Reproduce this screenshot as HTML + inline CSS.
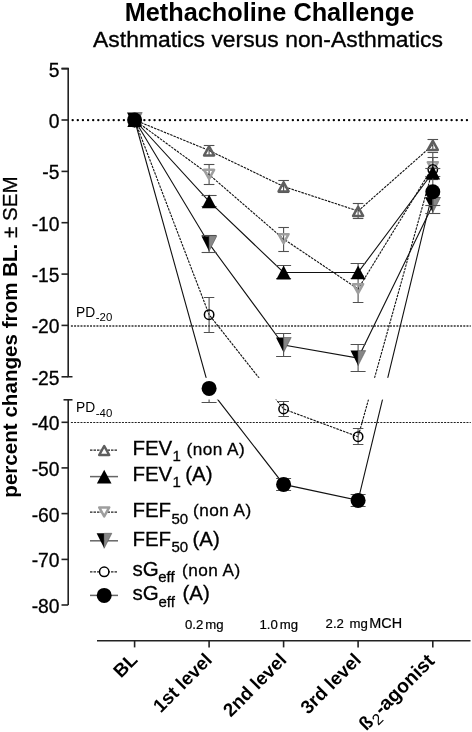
<!DOCTYPE html>
<html><head><meta charset="utf-8"><style>
html,body{margin:0;padding:0;background:#fff;}
svg{display:block;will-change:transform;font-family:"Liberation Sans",sans-serif;}
</style></head><body>
<svg width="472" height="732" viewBox="0 0 472 732">
<defs><clipPath id="nogap"><rect x="0" y="0" width="472" height="377.8"/><rect x="0" y="399.6" width="472" height="340"/></clipPath></defs>
<rect width="472" height="732" fill="#fff"/>
<text x="269.5" y="21.2" text-anchor="middle" font-size="25.3" font-weight="bold">Methacholine Challenge</text>
<text x="268" y="47.4" text-anchor="middle" font-size="22.9" stroke="#000" stroke-width="0.35">Asthmatics versus non-Asthmatics</text>
<text transform="translate(16.6 337) rotate(-90)" text-anchor="middle" font-size="20.6"><tspan font-weight="bold">percent changes from BL.</tspan><tspan stroke="#000" stroke-width="0.3"> ± SEM</tspan></text>
<!-- reference lines -->
<line x1="72.7" y1="120.1" x2="467.5" y2="120.1" stroke="#000" stroke-width="2.4" stroke-linecap="round" stroke-dasharray="0 5.12"/>
<line x1="70.9" y1="326" x2="470.8" y2="326" stroke="#333" stroke-width="1.3" stroke-dasharray="2 1.19"/>
<line x1="70.9" y1="422.5" x2="470.8" y2="422.5" stroke="#222" stroke-width="1.2" stroke-dasharray="2 1.19"/>
<text x="76" y="316.6" font-size="13.8">PD<tspan font-size="11.4" dy="4.6" dx="0.6">-20</tspan></text>
<text x="76" y="412.2" font-size="13.8">PD<tspan font-size="11.4" dy="4.6" dx="0.6">-40</tspan></text>
<!-- data lines -->
<g><polyline points="134.6,120.0 209.1,150.5 283.6,186.5 358.1,211.0 432.8,145.0" fill="none" stroke="#111" stroke-width="1.1" stroke-dasharray="2.5 1"/><polyline points="134.6,120.0 209.1,174.6 283.6,239.0 358.1,289.0 432.8,167.0" fill="none" stroke="#111" stroke-width="1.1" stroke-dasharray="2.5 1"/><polyline points="134.6,120.0 209.1,314.7 283.6,409.0 358.1,436.7 432.8,169.5" fill="none" stroke="#111" stroke-width="1.1" stroke-dasharray="2.5 1"/><polyline points="134.6,120.0 209.1,201.3 283.6,272.5 358.1,272.4 432.8,172.5" fill="none" stroke="#111" stroke-width="1.1"/><polyline points="134.6,120.0 209.1,243.7 283.6,345.0 358.1,358.1 432.8,205.0" fill="none" stroke="#111" stroke-width="1.1"/><polyline points="134.6,120.0 209.1,388.4 283.6,484.4 358.1,500.4 432.8,191.7" fill="none" stroke="#111" stroke-width="1.1"/></g>
<rect x="69.2" y="377.8" width="403.8" height="21.8" fill="#fff"/>
<g stroke="#505050" stroke-width="1.1" clip-path="url(#nogap)"><line x1="209.1" y1="145.5" x2="209.1" y2="155.5"/><line x1="203.8" y1="145.5" x2="214.4" y2="145.5"/><line x1="203.8" y1="155.5" x2="214.4" y2="155.5"/><line x1="283.6" y1="180.5" x2="283.6" y2="192.5"/><line x1="278.3" y1="180.5" x2="288.9" y2="180.5"/><line x1="278.3" y1="192.5" x2="288.9" y2="192.5"/><line x1="358.1" y1="203.5" x2="358.1" y2="218.5"/><line x1="352.8" y1="203.5" x2="363.4" y2="203.5"/><line x1="352.8" y1="218.5" x2="363.4" y2="218.5"/><line x1="432.8" y1="139.5" x2="432.8" y2="150.5"/><line x1="427.5" y1="139.5" x2="438.1" y2="139.5"/><line x1="427.5" y1="150.5" x2="438.1" y2="150.5"/></g><polygon points="129.60,124.90 134.60,115.90 139.60,124.90" fill="none" stroke="#5e5e5e" stroke-width="2.5" stroke-linejoin="round"/><polygon points="204.10,155.40 209.10,146.40 214.10,155.40" fill="none" stroke="#5e5e5e" stroke-width="2.5" stroke-linejoin="round"/><polygon points="278.60,191.40 283.60,182.40 288.60,191.40" fill="none" stroke="#5e5e5e" stroke-width="2.5" stroke-linejoin="round"/><polygon points="353.10,215.90 358.10,206.90 363.10,215.90" fill="none" stroke="#5e5e5e" stroke-width="2.5" stroke-linejoin="round"/><polygon points="427.80,149.90 432.80,140.90 437.80,149.90" fill="none" stroke="#5e5e5e" stroke-width="2.5" stroke-linejoin="round"/><g stroke="#505050" stroke-width="1.1" clip-path="url(#nogap)"><line x1="209.1" y1="164.5" x2="209.1" y2="184.5"/><line x1="203.8" y1="164.5" x2="214.4" y2="164.5"/><line x1="203.8" y1="184.5" x2="214.4" y2="184.5"/><line x1="283.6" y1="227.5" x2="283.6" y2="251.5"/><line x1="278.3" y1="227.5" x2="288.9" y2="227.5"/><line x1="278.3" y1="251.5" x2="288.9" y2="251.5"/><line x1="358.1" y1="275.5" x2="358.1" y2="302.5"/><line x1="352.8" y1="275.5" x2="363.4" y2="275.5"/><line x1="352.8" y1="302.5" x2="363.4" y2="302.5"/><line x1="432.8" y1="152.5" x2="432.8" y2="179.5"/><line x1="427.5" y1="152.5" x2="438.1" y2="152.5"/><line x1="427.5" y1="179.5" x2="438.1" y2="179.5"/></g><polygon points="129.60,115.20 134.60,124.20 139.60,115.20" fill="none" stroke="#9e9e9e" stroke-width="2.5" stroke-linejoin="round"/><polygon points="204.10,169.80 209.10,178.80 214.10,169.80" fill="none" stroke="#9e9e9e" stroke-width="2.5" stroke-linejoin="round"/><polygon points="278.60,234.20 283.60,243.20 288.60,234.20" fill="none" stroke="#9e9e9e" stroke-width="2.5" stroke-linejoin="round"/><polygon points="353.10,284.20 358.10,293.20 363.10,284.20" fill="none" stroke="#9e9e9e" stroke-width="2.5" stroke-linejoin="round"/><polygon points="427.80,162.20 432.80,171.20 437.80,162.20" fill="none" stroke="#9e9e9e" stroke-width="2.5" stroke-linejoin="round"/><g stroke="#505050" stroke-width="1.1" clip-path="url(#nogap)"><line x1="209.1" y1="297.5" x2="209.1" y2="332.5"/><line x1="203.8" y1="297.5" x2="214.3" y2="297.5"/><line x1="203.8" y1="332.5" x2="214.3" y2="332.5"/><line x1="283.6" y1="401.5" x2="283.6" y2="416.5"/><line x1="278.4" y1="401.5" x2="288.9" y2="401.5"/><line x1="278.4" y1="416.5" x2="288.9" y2="416.5"/><line x1="358.1" y1="428.5" x2="358.1" y2="444.5"/><line x1="352.9" y1="428.5" x2="363.4" y2="428.5"/><line x1="352.9" y1="444.5" x2="363.4" y2="444.5"/><line x1="432.8" y1="157.5" x2="432.8" y2="179.5"/><line x1="427.6" y1="157.5" x2="438.1" y2="157.5"/><line x1="427.6" y1="179.5" x2="438.1" y2="179.5"/></g><circle cx="134.60" cy="120.00" r="4.7" fill="none" stroke="#000" stroke-width="1.5"/><circle cx="209.10" cy="314.70" r="4.7" fill="none" stroke="#000" stroke-width="1.5"/><circle cx="283.60" cy="409.00" r="4.7" fill="none" stroke="#000" stroke-width="1.5"/><circle cx="358.10" cy="436.70" r="4.7" fill="none" stroke="#000" stroke-width="1.5"/><circle cx="432.80" cy="169.50" r="4.7" fill="none" stroke="#000" stroke-width="1.5"/><g stroke="#505050" stroke-width="1.1" clip-path="url(#nogap)"><line x1="209.1" y1="195.5" x2="209.1" y2="206.5"/><line x1="201.6" y1="195.5" x2="216.6" y2="195.5"/><line x1="201.6" y1="206.5" x2="216.6" y2="206.5"/><line x1="283.6" y1="265.5" x2="283.6" y2="278.5"/><line x1="276.1" y1="265.5" x2="291.1" y2="265.5"/><line x1="276.1" y1="278.5" x2="291.1" y2="278.5"/><line x1="358.1" y1="263.5" x2="358.1" y2="278.5"/><line x1="350.6" y1="263.5" x2="365.6" y2="263.5"/><line x1="350.6" y1="278.5" x2="365.6" y2="278.5"/><line x1="432.8" y1="168.5" x2="432.8" y2="176.5"/><line x1="425.3" y1="168.5" x2="440.3" y2="168.5"/><line x1="425.3" y1="176.5" x2="440.3" y2="176.5"/></g><polygon points="127.30,126.90 134.60,113.10 141.90,126.90" fill="#000"/><polygon points="201.80,208.20 209.10,194.40 216.40,208.20" fill="#000"/><polygon points="276.30,279.40 283.60,265.60 290.90,279.40" fill="#000"/><polygon points="350.80,279.30 358.10,265.50 365.40,279.30" fill="#000"/><polygon points="425.50,179.40 432.80,165.60 440.10,179.40" fill="#000"/><g stroke="#505050" stroke-width="1.1" clip-path="url(#nogap)"><line x1="209.1" y1="235.5" x2="209.1" y2="252.5"/><line x1="201.6" y1="235.5" x2="216.6" y2="235.5"/><line x1="201.6" y1="252.5" x2="216.6" y2="252.5"/><line x1="283.6" y1="333.5" x2="283.6" y2="356.5"/><line x1="276.1" y1="333.5" x2="291.1" y2="333.5"/><line x1="276.1" y1="356.5" x2="291.1" y2="356.5"/><line x1="358.1" y1="344.5" x2="358.1" y2="371.5"/><line x1="350.6" y1="344.5" x2="365.6" y2="344.5"/><line x1="350.6" y1="371.5" x2="365.6" y2="371.5"/><line x1="432.8" y1="197.5" x2="432.8" y2="213.5"/><line x1="425.3" y1="197.5" x2="440.3" y2="197.5"/><line x1="425.3" y1="213.5" x2="440.3" y2="213.5"/></g><polygon points="127.00,112.50 134.60,112.50 134.60,127.50" fill="#000"/><polygon points="134.60,112.50 142.20,112.50 134.60,127.50" fill="#868686" stroke="#555" stroke-width="0.6"/><polygon points="201.50,236.20 209.10,236.20 209.10,251.20" fill="#000"/><polygon points="209.10,236.20 216.70,236.20 209.10,251.20" fill="#868686" stroke="#555" stroke-width="0.6"/><polygon points="276.00,337.50 283.60,337.50 283.60,352.50" fill="#000"/><polygon points="283.60,337.50 291.20,337.50 283.60,352.50" fill="#868686" stroke="#555" stroke-width="0.6"/><polygon points="350.50,350.60 358.10,350.60 358.10,365.60" fill="#000"/><polygon points="358.10,350.60 365.70,350.60 358.10,365.60" fill="#868686" stroke="#555" stroke-width="0.6"/><polygon points="425.20,197.50 432.80,197.50 432.80,212.50" fill="#000"/><polygon points="432.80,197.50 440.40,197.50 432.80,212.50" fill="#868686" stroke="#555" stroke-width="0.6"/><g stroke="#505050" stroke-width="1.1" clip-path="url(#nogap)"><line x1="209.1" y1="388.5" x2="209.1" y2="402.5"/><line x1="201.6" y1="402.5" x2="216.6" y2="402.5"/><line x1="283.6" y1="478.5" x2="283.6" y2="490.5"/><line x1="276.1" y1="478.5" x2="291.1" y2="478.5"/><line x1="276.1" y1="490.5" x2="291.1" y2="490.5"/><line x1="358.1" y1="494.5" x2="358.1" y2="506.5"/><line x1="350.6" y1="494.5" x2="365.6" y2="494.5"/><line x1="350.6" y1="506.5" x2="365.6" y2="506.5"/><line x1="432.8" y1="178.5" x2="432.8" y2="205.5"/><line x1="425.3" y1="205.5" x2="440.3" y2="205.5"/></g><circle cx="134.60" cy="120.00" r="7.5" fill="#000"/><circle cx="209.10" cy="388.40" r="7.5" fill="#000"/><circle cx="283.60" cy="484.40" r="7.5" fill="#000"/><circle cx="358.10" cy="500.40" r="7.5" fill="#000"/><circle cx="432.80" cy="191.70" r="7.5" fill="#000"/>
<!-- axes -->
<g stroke="#222" stroke-width="1.6" fill="none">
<polyline points="61.5,68.6 68.2,68.6 68.2,376.8 72.5,376.8"/>
<polyline points="63.5,399.8 72.5,399.8"/>
<line x1="68.2" y1="399.8" x2="68.2" y2="605.0"/>
<line x1="61.5" y1="68.6" x2="68.2" y2="68.6"/><line x1="61.5" y1="120" x2="68.2" y2="120"/><line x1="61.5" y1="171.4" x2="68.2" y2="171.4"/><line x1="61.5" y1="222.7" x2="68.2" y2="222.7"/><line x1="61.5" y1="274.1" x2="68.2" y2="274.1"/><line x1="61.5" y1="325.4" x2="68.2" y2="325.4"/><line x1="61.5" y1="376.8" x2="68.2" y2="376.8"/><line x1="61.5" y1="422.3" x2="68.2" y2="422.3"/><line x1="61.5" y1="467.9" x2="68.2" y2="467.9"/><line x1="61.5" y1="513.6" x2="68.2" y2="513.6"/><line x1="61.5" y1="559.4" x2="68.2" y2="559.4"/><line x1="61.5" y1="605.0" x2="68.2" y2="605.0"/>
<line x1="97" y1="640.7" x2="470.5" y2="640.7"/>
<line x1="134.6" y1="640.7" x2="134.6" y2="647.4"/><line x1="209.1" y1="640.7" x2="209.1" y2="647.4"/><line x1="283.6" y1="640.7" x2="283.6" y2="647.4"/><line x1="358.1" y1="640.7" x2="358.1" y2="647.4"/><line x1="432.8" y1="640.7" x2="432.8" y2="647.4"/>
</g>
<g font-size="19.3" text-anchor="end" stroke="#000" stroke-width="0.3"><text x="59.5" y="76.5">5</text><text x="59.5" y="127.9">0</text><text x="59.5" y="179.3">-5</text><text x="59.5" y="230.6">-10</text><text x="59.5" y="282.0">-15</text><text x="59.5" y="333.3">-20</text><text x="59.5" y="384.7">-25</text><text x="59.5" y="430.2">-40</text><text x="59.5" y="475.8">-50</text><text x="59.5" y="521.5">-60</text><text x="59.5" y="567.3">-70</text><text x="59.5" y="612.9">-80</text></g>
<line x1="90" y1="450.1" x2="118" y2="450.1" stroke="#222" stroke-width="1.3" stroke-dasharray="2.5 1"/><polygon points="99.20,455.00 104.20,446.00 109.20,455.00" fill="#fff" stroke="#5e5e5e" stroke-width="2.5" stroke-linejoin="round"/><g stroke="#000" stroke-width="0.3"><text x="132.4" y="455.3" font-size="20.5">FEV</text><text x="172.6" y="461.3" font-size="15">1</text><text x="186.6" y="454.8" font-size="17.2" letter-spacing="0.45">(non A)</text></g><line x1="90" y1="476.6" x2="118" y2="476.6" stroke="#666" stroke-width="1.5"/><polygon points="96.90,483.50 104.20,469.70 111.50,483.50" fill="#000"/><g stroke="#000" stroke-width="0.3"><text x="132.4" y="481.3" font-size="20.5">FEV</text><text x="172.6" y="487.3" font-size="15">1</text><text x="185.3" y="481.3" font-size="20.5">(A)</text></g><line x1="90" y1="512.2" x2="118" y2="512.2" stroke="#222" stroke-width="1.3" stroke-dasharray="2.5 1"/><polygon points="99.20,507.40 104.20,516.40 109.20,507.40" fill="#fff" stroke="#9e9e9e" stroke-width="2.5" stroke-linejoin="round"/><g stroke="#000" stroke-width="0.3"><text x="132.4" y="516.5" font-size="20.5">FEF</text><text x="171.4" y="523.5" font-size="15">50</text><text x="193.0" y="516.2" font-size="17.2" letter-spacing="0.45">(non A)</text></g><line x1="90" y1="540.8" x2="118" y2="540.8" stroke="#666" stroke-width="1.5"/><polygon points="96.60,533.30 104.20,533.30 104.20,548.30" fill="#000"/><polygon points="104.20,533.30 111.80,533.30 104.20,548.30" fill="#868686" stroke="#555" stroke-width="0.6"/><g stroke="#000" stroke-width="0.3"><text x="132.4" y="546.1" font-size="20.5">FEF</text><text x="171.4" y="552.3" font-size="15">50</text><text x="192.5" y="546.1" font-size="20.5">(A)</text></g><line x1="90" y1="571.8" x2="118" y2="571.8" stroke="#222" stroke-width="1.3" stroke-dasharray="2.5 1"/><circle cx="104.20" cy="571.80" r="4.7" fill="#fff" stroke="#000" stroke-width="1.5"/><g stroke="#000" stroke-width="0.3"><text x="132.4" y="575.8" font-size="20.5">sG</text><text x="158.2" y="582.2" font-size="15">eff</text><text x="182.0" y="575.5" font-size="17.2" letter-spacing="0.45">(non A)</text></g><line x1="90" y1="595.4" x2="118" y2="595.4" stroke="#666" stroke-width="1.5"/><circle cx="104.20" cy="595.40" r="7.5" fill="#000"/><g stroke="#000" stroke-width="0.3"><text x="132.4" y="600.4" font-size="20.5">sG</text><text x="158.4" y="606.6" font-size="15">eff</text><text x="182.4" y="600.4" font-size="20.5">(A)</text></g>
<g font-size="13.2" stroke="#000" stroke-width="0.2">
<text x="185" y="629">0.2<tspan dx="2">mg</tspan></text>
<text x="259.5" y="629">1.0<tspan dx="2">mg</tspan></text>
<text x="325.6" y="628.3">2.2<tspan dx="5.5">mg</tspan><tspan dx="1.6" font-size="14.4">MCH</tspan></text>
</g>
<g font-size="18.8" font-weight="bold" text-anchor="end"><text x="138.6" y="661" transform="rotate(-45 138.6 661)">BL</text><text x="213.1" y="661" transform="rotate(-45 213.1 661)">1st level</text><text x="287.6" y="661" transform="rotate(-45 287.6 661)">2nd level</text><text x="362.1" y="661" transform="rotate(-45 362.1 661)">3rd level</text><text x="435.6" y="662.2" transform="rotate(-45 435.6 662.2)">ß<tspan font-weight="normal" font-size="15.5" dy="4.5" dx="0.8">2</tspan><tspan dy="-4.5" dx="0.8" font-size="19.6">-agonist</tspan></text></g>
</svg>
</body></html>
